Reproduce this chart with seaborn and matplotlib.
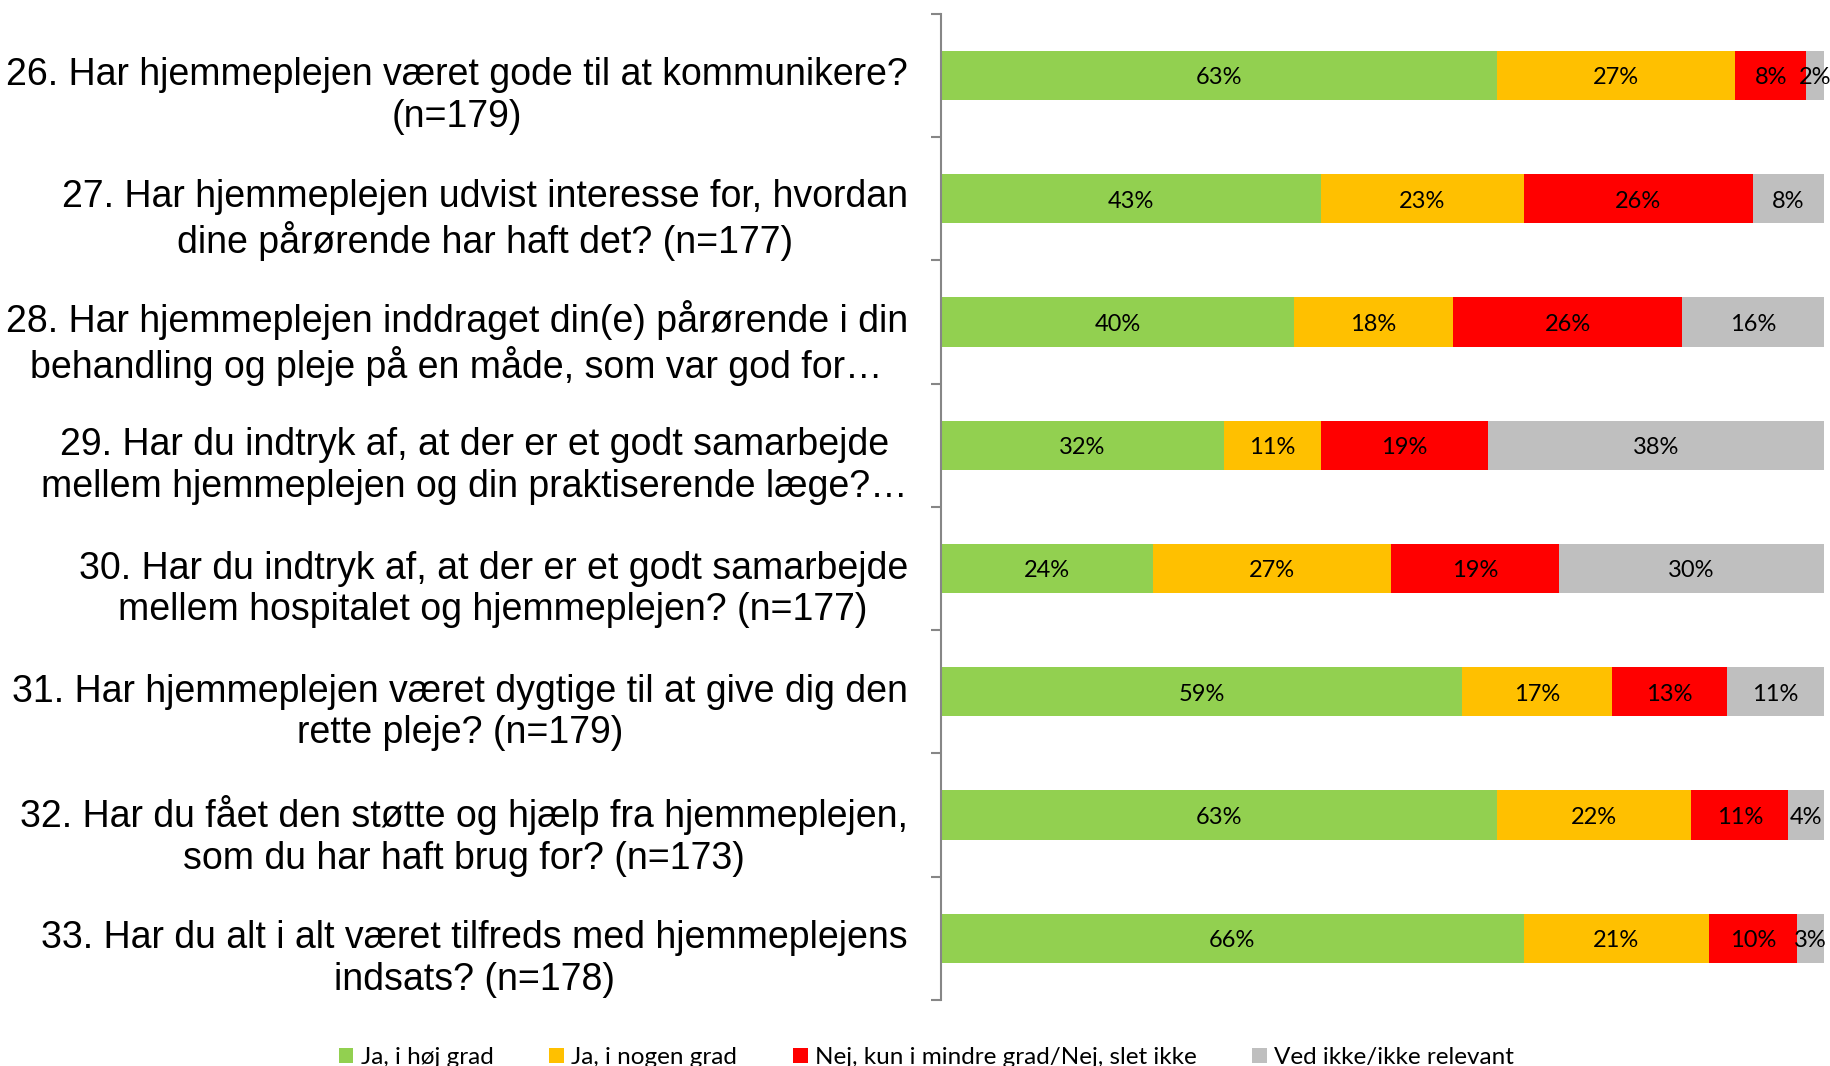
import matplotlib
matplotlib.use('Agg')
import matplotlib.pyplot as plt
import matplotlib.transforms as mtransforms
from matplotlib.ticker import FixedLocator, NullLocator
from matplotlib.patches import Patch
import numpy as np
import pandas as pd
import seaborn as sns

# Questions (top to bottom)
questions = [
    "26. Har hjemmeplejen været gode til at kommunikere?\n(n=179)",
    "27. Har hjemmeplejen udvist interesse for, hvordan\ndine pårørende har haft det? (n=177)",
    "28. Har hjemmeplejen inddraget din(e) pårørende i din\nbehandling og pleje på en måde, som var god for…",
    "29. Har du indtryk af, at der er et godt samarbejde\nmellem hjemmeplejen og din praktiserende læge?…",
    "30. Har du indtryk af, at der er et godt samarbejde\nmellem hospitalet og hjemmeplejen? (n=177)",
    "31. Har hjemmeplejen været dygtige til at give dig den\nrette pleje? (n=179)",
    "32. Har du fået den støtte og hjælp fra hjemmeplejen,\nsom du har haft brug for? (n=173)",
    "33. Har du alt i alt været tilfreds med hjemmeplejens\nindsats? (n=178)",
]

series_names = ["Ja, i høj grad", "Ja, i nogen grad",
                "Nej, kun i mindre grad/Nej, slet ikke", "Ved ikke/ikke relevant"]
ja_hoej = [63, 43, 40, 32, 24, 59, 63, 66]
ja_nogen = [27, 23, 18, 11, 27, 17, 22, 21]
nej = [8, 26, 26, 19, 19, 13, 11, 10]
ved_ikke = [2, 8, 16, 38, 30, 11, 4, 3]

colors = ["#92D050", "#FFC000", "#FF0000", "#BFBFBF"]

vals = np.array([ja_hoej, ja_nogen, nej, ved_ikke], dtype=float)
cums = vals.cumsum(axis=0)

fig = plt.figure(figsize=(18.31, 10.66), dpi=100)
ax = fig.add_axes([0.514, 0.062, 0.482, 0.925])

# layered cumulative bars: draw the longest first so shorter ones sit on top
for k in range(3, -1, -1):
    d = pd.DataFrame({"q": questions, "x": cums[k]})
    sns.barplot(data=d, y="q", x="x", orient="h", color=colors[k], saturation=1,
                width=0.4, linewidth=0, ax=ax, order=questions)

for k in range(4):
    for i in range(len(questions)):
        center = cums[k][i] - vals[k][i] / 2
        ax.text(center, i + 0.02, f"{int(vals[k][i])}%", ha="center", va="center",
                fontsize=17, family="Lato", color="black")

ax.set_xlim(0, 100)
ax.set_ylim(7.5, -0.5)
ax.set_xlabel("")
ax.set_ylabel("")
ax.xaxis.set_major_locator(NullLocator())
for s in ["top", "right", "bottom"]:
    ax.spines[s].set_visible(False)
ax.spines["left"].set_color("#868686")
ax.spines["left"].set_linewidth(1.5)

ax.set_yticks(range(len(questions)))
ax.set_yticklabels(questions, fontsize=27, family="Liberation Sans",
                   multialignment="center")
ax.yaxis.set_minor_locator(FixedLocator(np.arange(-0.5, 8, 1)))
ax.tick_params(axis="y", which="major", length=0, pad=24)
ax.tick_params(axis="y", which="minor", length=7, width=1.5, color="#868686")

offset = mtransforms.ScaledTranslation(0, -0.14, fig.dpi_scale_trans)
for lbl in ax.get_yticklabels():
    lbl.set_transform(lbl.get_transform() + offset)

handles = [Patch(facecolor=c, edgecolor="none") for c in colors]
fig.legend(handles, series_names, loc="center", bbox_to_anchor=(0.506, 0.008),
           ncol=4, frameon=False, prop={"family": "Lato", "size": 17.5},
           handlelength=0.6, handleheight=0.6, handletextpad=0.3, columnspacing=2.3)

fig.savefig("out.png", dpi=100, facecolor="white")
